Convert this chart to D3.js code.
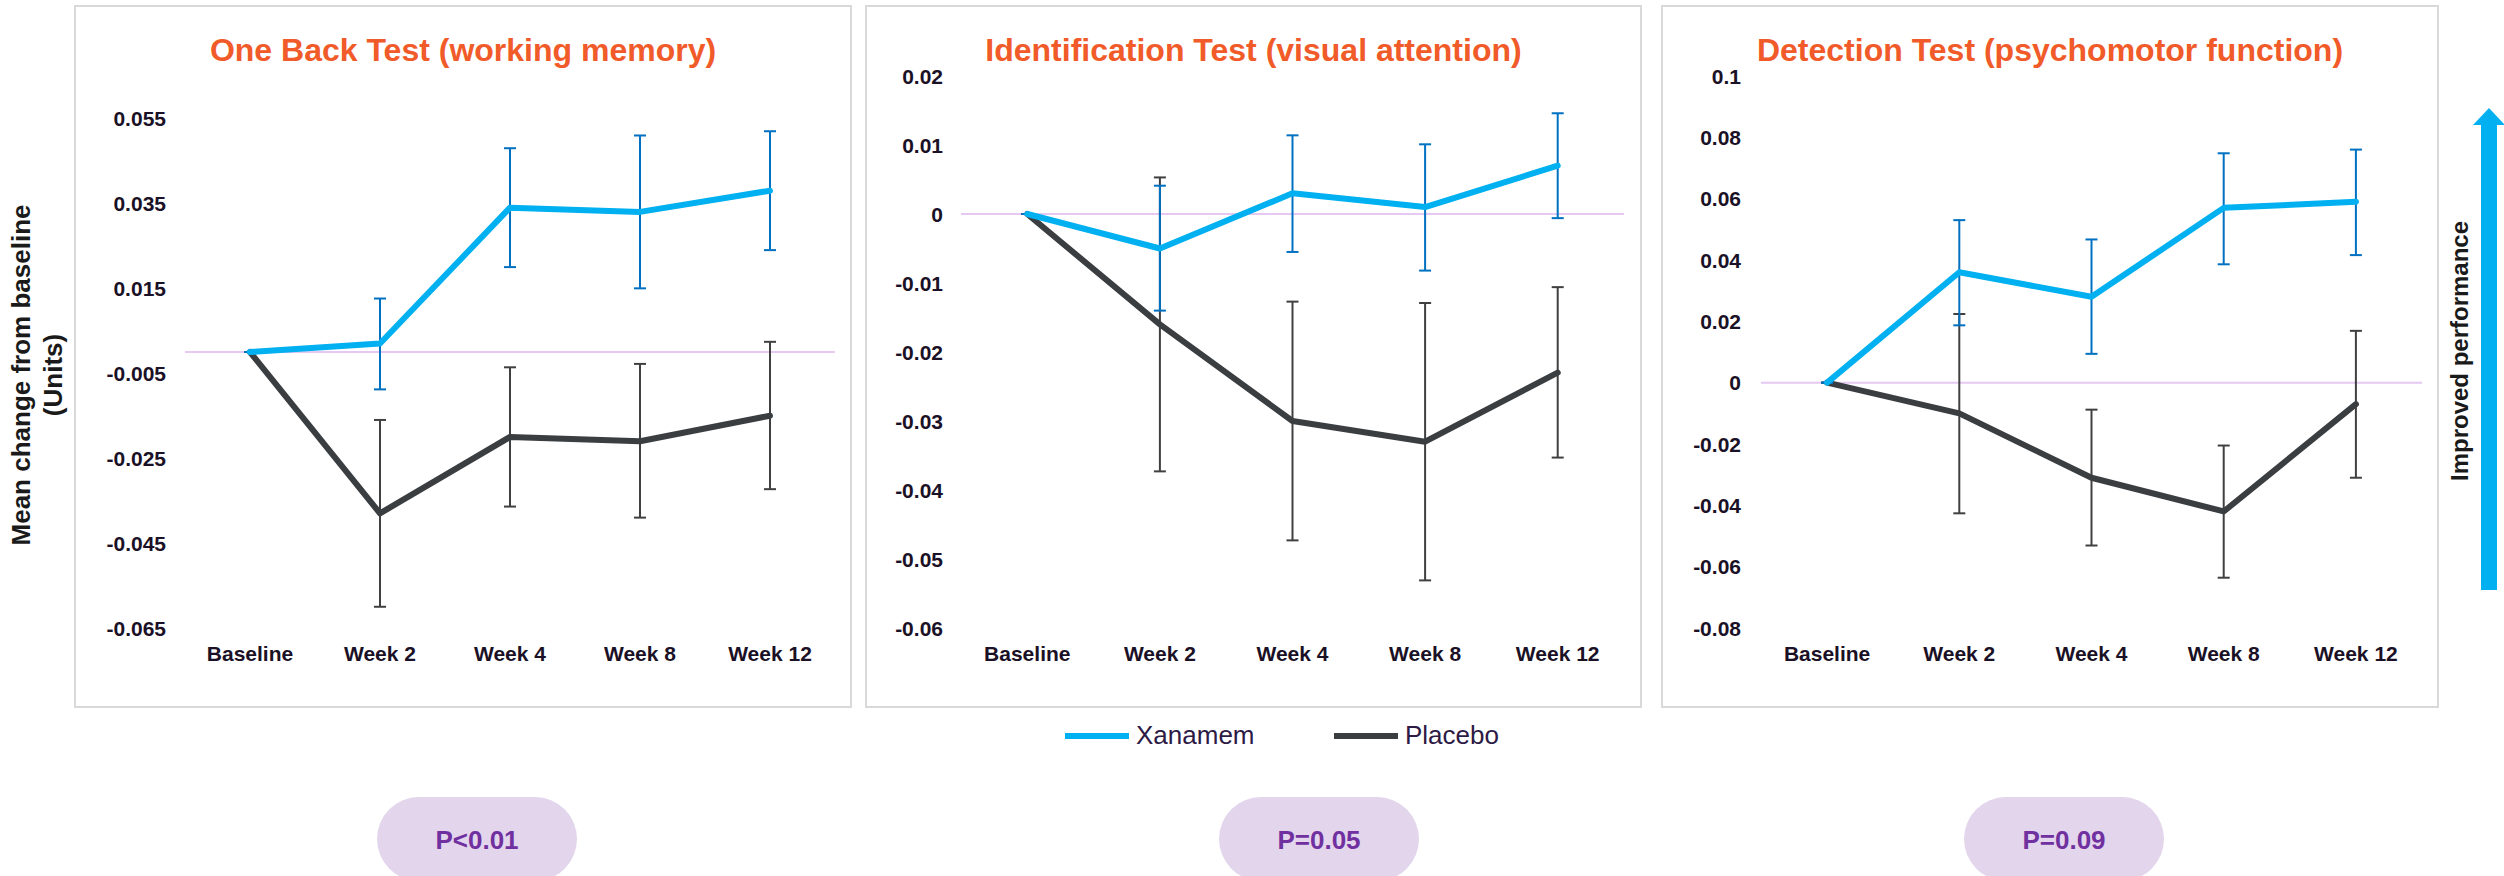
<!DOCTYPE html>
<html>
<head>
<meta charset="utf-8">
<script src="https://cdn.jsdelivr.net/npm/d3@7"></script>
<style>
  body { margin: 0; background: #ffffff; }
  svg text { font-family: "Liberation Sans", Arial, sans-serif; }
</style>
</head>
<body>
<div id="chart"></div>
<script>
// categories and labels
const weeks = ["Baseline", "Week 2", "Week 4", "Week 8", "Week 12"];
const titles = ["One Back Test (working memory)", "Identification Test (visual attention)", "Detection Test (psychomotor function)"];
const seriesNames = ["Xanamem", "Placebo"];
const pValues = ["P<0.01", "P=0.05", "P=0.09"];

// y tick values per panel
const oneBackTicks = [0.055, 0.035, 0.015, -0.005, -0.025, -0.045, -0.065];
const identTicks = [0.02, 0.01, 0, -0.01, -0.02, -0.03, -0.04, -0.05, -0.06];
const detectTicks = [0.1, 0.08, 0.06, 0.04, 0.02, 0, -0.02, -0.04, -0.06, -0.08];

// One Back Test
const oneBackXan = [0, 0.002, 0.034, 0.033, 0.038];
const oneBackXanHi = [0, 0.0126, 0.048, 0.051, 0.052];
const oneBackXanLo = [0, -0.0088, 0.020, 0.015, 0.024];
const oneBackPla = [0, -0.038, -0.020, -0.021, -0.015];
const oneBackPlaHi = [0, -0.016, -0.0036, -0.0028, 0.0024];
const oneBackPlaLo = [0, -0.060, -0.0364, -0.039, -0.0323];

// Identification Test
const identXan = [0, -0.005, 0.003, 0.001, 0.007];
const identXanHi = [0, 0.0041, 0.0114, 0.0101, 0.0146];
const identXanLo = [0, -0.014, -0.0055, -0.0082, -0.0006];
const identPla = [0, -0.016, -0.030, -0.033, -0.023];
const identPlaHi = [0, 0.0053, -0.0127, -0.0129, -0.0106];
const identPlaLo = [0, -0.0373, -0.0473, -0.0531, -0.0353];

// Detection Test
const detectXan = [0, 0.036, 0.028, 0.057, 0.059];
const detectXanHi = [0, 0.053, 0.0467, 0.0748, 0.076];
const detectXanLo = [0, 0.0187, 0.0094, 0.0386, 0.0416];
const detectPla = [0, -0.010, -0.031, -0.042, -0.007];
const detectPlaHi = [0, 0.0224, -0.0088, -0.0205, 0.0169];
const detectPlaLo = [0, -0.0426, -0.0531, -0.0636, -0.031];

const W = 2504, H = 876;
const colXan = "#00b0f0", colXanErr = "#0070c0";
const colPla = "#3b3e41", colPlaErr = "#404040";
const textCol = "#1b1126";

const svg = d3.select("#chart").append("svg")
  .attr("width", W)
  .attr("height", H);

svg.append("rect").attr("width", W).attr("height", H).attr("fill", "#ffffff");

// layout of each panel (box, plot area)
const panels = [
  { box: [75, 851], plot: [185, 835], yr: [628, 118.5], labelX: 166, ticks: oneBackTicks,
    xan: [oneBackXan, oneBackXanLo, oneBackXanHi], pla: [oneBackPla, oneBackPlaLo, oneBackPlaHi] },
  { box: [866, 1641], plot: [961, 1624], yr: [628, 76], labelX: 943, ticks: identTicks,
    xan: [identXan, identXanLo, identXanHi], pla: [identPla, identPlaLo, identPlaHi] },
  { box: [1662, 2438], plot: [1761, 2422], yr: [628, 76], labelX: 1741, ticks: detectTicks,
    xan: [detectXan, detectXanLo, detectXanHi], pla: [detectPla, detectPlaLo, detectPlaHi] }
];

panels.forEach((p, k) => {
  let g = svg.append("g");

  g.append("rect")
    .attr("x", p.box[0])
    .attr("y", 6)
    .attr("width", p.box[1] - p.box[0])
    .attr("height", 701)
    .attr("fill", "#ffffff")
    .attr("stroke", "#d9d9d9")
    .attr("stroke-width", 2);

  g.append("text")
    .attr("x", (p.box[0] + p.box[1]) / 2)
    .attr("y", 61)
    .attr("text-anchor", "middle")
    .style("font-size", "32px")
    .style("font-weight", "bold")
    .style("fill", "#f15a29")
    .text(titles[k]);

  let x = d3.scaleBand().domain(weeks).range(p.plot);
  let cx = (d) => x(d) + x.bandwidth() / 2;
  let y = d3.scaleLinear()
    .domain([d3.min(p.ticks), d3.max(p.ticks)])
    .range(p.yr);

  // tick labels
  g.selectAll(".ytick")
    .data(p.ticks)
    .enter().append("text")
    .attr("class", "ytick")
    .attr("x", p.labelX)
    .attr("y", (d) => y(d) + 7.5)
    .attr("text-anchor", "end")
    .style("font-size", "21px")
    .style("font-weight", "bold")
    .style("fill", textCol)
    .text((d) => String(+d.toFixed(3)));

  g.selectAll(".xtick")
    .data(weeks)
    .enter().append("text")
    .attr("class", "xtick")
    .attr("x", (d) => cx(d))
    .attr("y", 661)
    .attr("text-anchor", "middle")
    .style("font-size", "21px")
    .style("font-weight", "bold")
    .style("fill", textCol)
    .text((d) => d);

  // zero line
  g.append("line")
    .attr("x1", p.plot[0])
    .attr("x2", p.plot[1])
    .attr("y1", y(0))
    .attr("y2", y(0))
    .style("stroke", "#e5c9f3")
    .style("stroke-width", 2);

  let line = d3.line()
    .x((d, i) => cx(weeks[i]))
    .y((d) => y(d));

  // placebo first, xanamem drawn on top
  [[p.pla, colPla, colPlaErr], [p.xan, colXan, colXanErr]].forEach(([s, col, errCol]) => {
    let [mean, lo, hi] = s;

    let bars = g.append("g");
    bars.selectAll("line.err")
      .data(weeks)
      .enter().append("line")
      .attr("class", "err")
      .attr("x1", (d) => cx(d))
      .attr("x2", (d) => cx(d))
      .attr("y1", (d, i) => y(hi[i]))
      .attr("y2", (d, i) => y(lo[i]))
      .style("stroke", errCol)
      .style("stroke-width", 2);

    [hi, lo].forEach((v) => {
      bars.selectAll(null)
        .data(weeks)
        .enter().append("line")
        .attr("x1", (d) => cx(d) - 6)
        .attr("x2", (d) => cx(d) + 6)
        .attr("y1", (d, i) => y(v[i]))
        .attr("y2", (d, i) => y(v[i]))
        .style("stroke", errCol)
        .style("stroke-width", 2);
    });

    g.append("path")
      .datum(mean)
      .attr("d", line)
      .style("fill", "none")
      .style("stroke", col)
      .style("stroke-width", 6)
      .style("stroke-linejoin", "round")
      .style("stroke-linecap", "round");
  });

  // p-value pill
  let pill = svg.append("g");
  let pc = [477, 1319, 2064][k];
  pill.append("rect")
    .attr("x", pc - 100)
    .attr("y", 797)
    .attr("width", 200)
    .attr("height", 84)
    .attr("rx", 42)
    .attr("fill", "#e2d5ec");
  pill.append("text")
    .attr("x", pc)
    .attr("y", 849)
    .attr("text-anchor", "middle")
    .style("font-size", "26px")
    .style("font-weight", "bold")
    .style("fill", "#7030a0")
    .text(pValues[k]);
});

// y axis title
let yTitle = svg.append("text")
  .attr("transform", "translate(30,375) rotate(-90)")
  .attr("text-anchor", "middle")
  .style("font-size", "26px")
  .style("font-weight", "bold")
  .style("fill", "#1a1a1a");
yTitle.append("tspan").attr("x", 0).attr("y", 0).text("Mean change from baseline");
yTitle.append("tspan").attr("x", 0).attr("y", 32).text("(Units)");

// improved performance arrow
svg.append("rect")
  .attr("x", 2481)
  .attr("y", 124)
  .attr("width", 16)
  .attr("height", 466)
  .attr("fill", colXan);
svg.append("path")
  .attr("d", "M2489,108 L2505,125 L2473,125 Z")
  .attr("fill", colXan);
svg.append("text")
  .attr("transform", "translate(2468,351) rotate(-90)")
  .attr("text-anchor", "middle")
  .style("font-size", "24px")
  .style("font-weight", "bold")
  .style("fill", "#1a1a1a")
  .text("Improved performance");

// legend
let legend = svg.append("g");
[[1065, colXan], [1334, colPla]].forEach(([lx, col], i) => {
  legend.append("line")
    .attr("x1", lx)
    .attr("x2", lx + 64)
    .attr("y1", 736)
    .attr("y2", 736)
    .style("stroke", col)
    .style("stroke-width", 6);
  legend.append("text")
    .attr("x", lx + 71)
    .attr("y", 744)
    .style("font-size", "26px")
    .style("fill", "#2d1a45")
    .text(seriesNames[i]);
});
</script>
</body>
</html>
